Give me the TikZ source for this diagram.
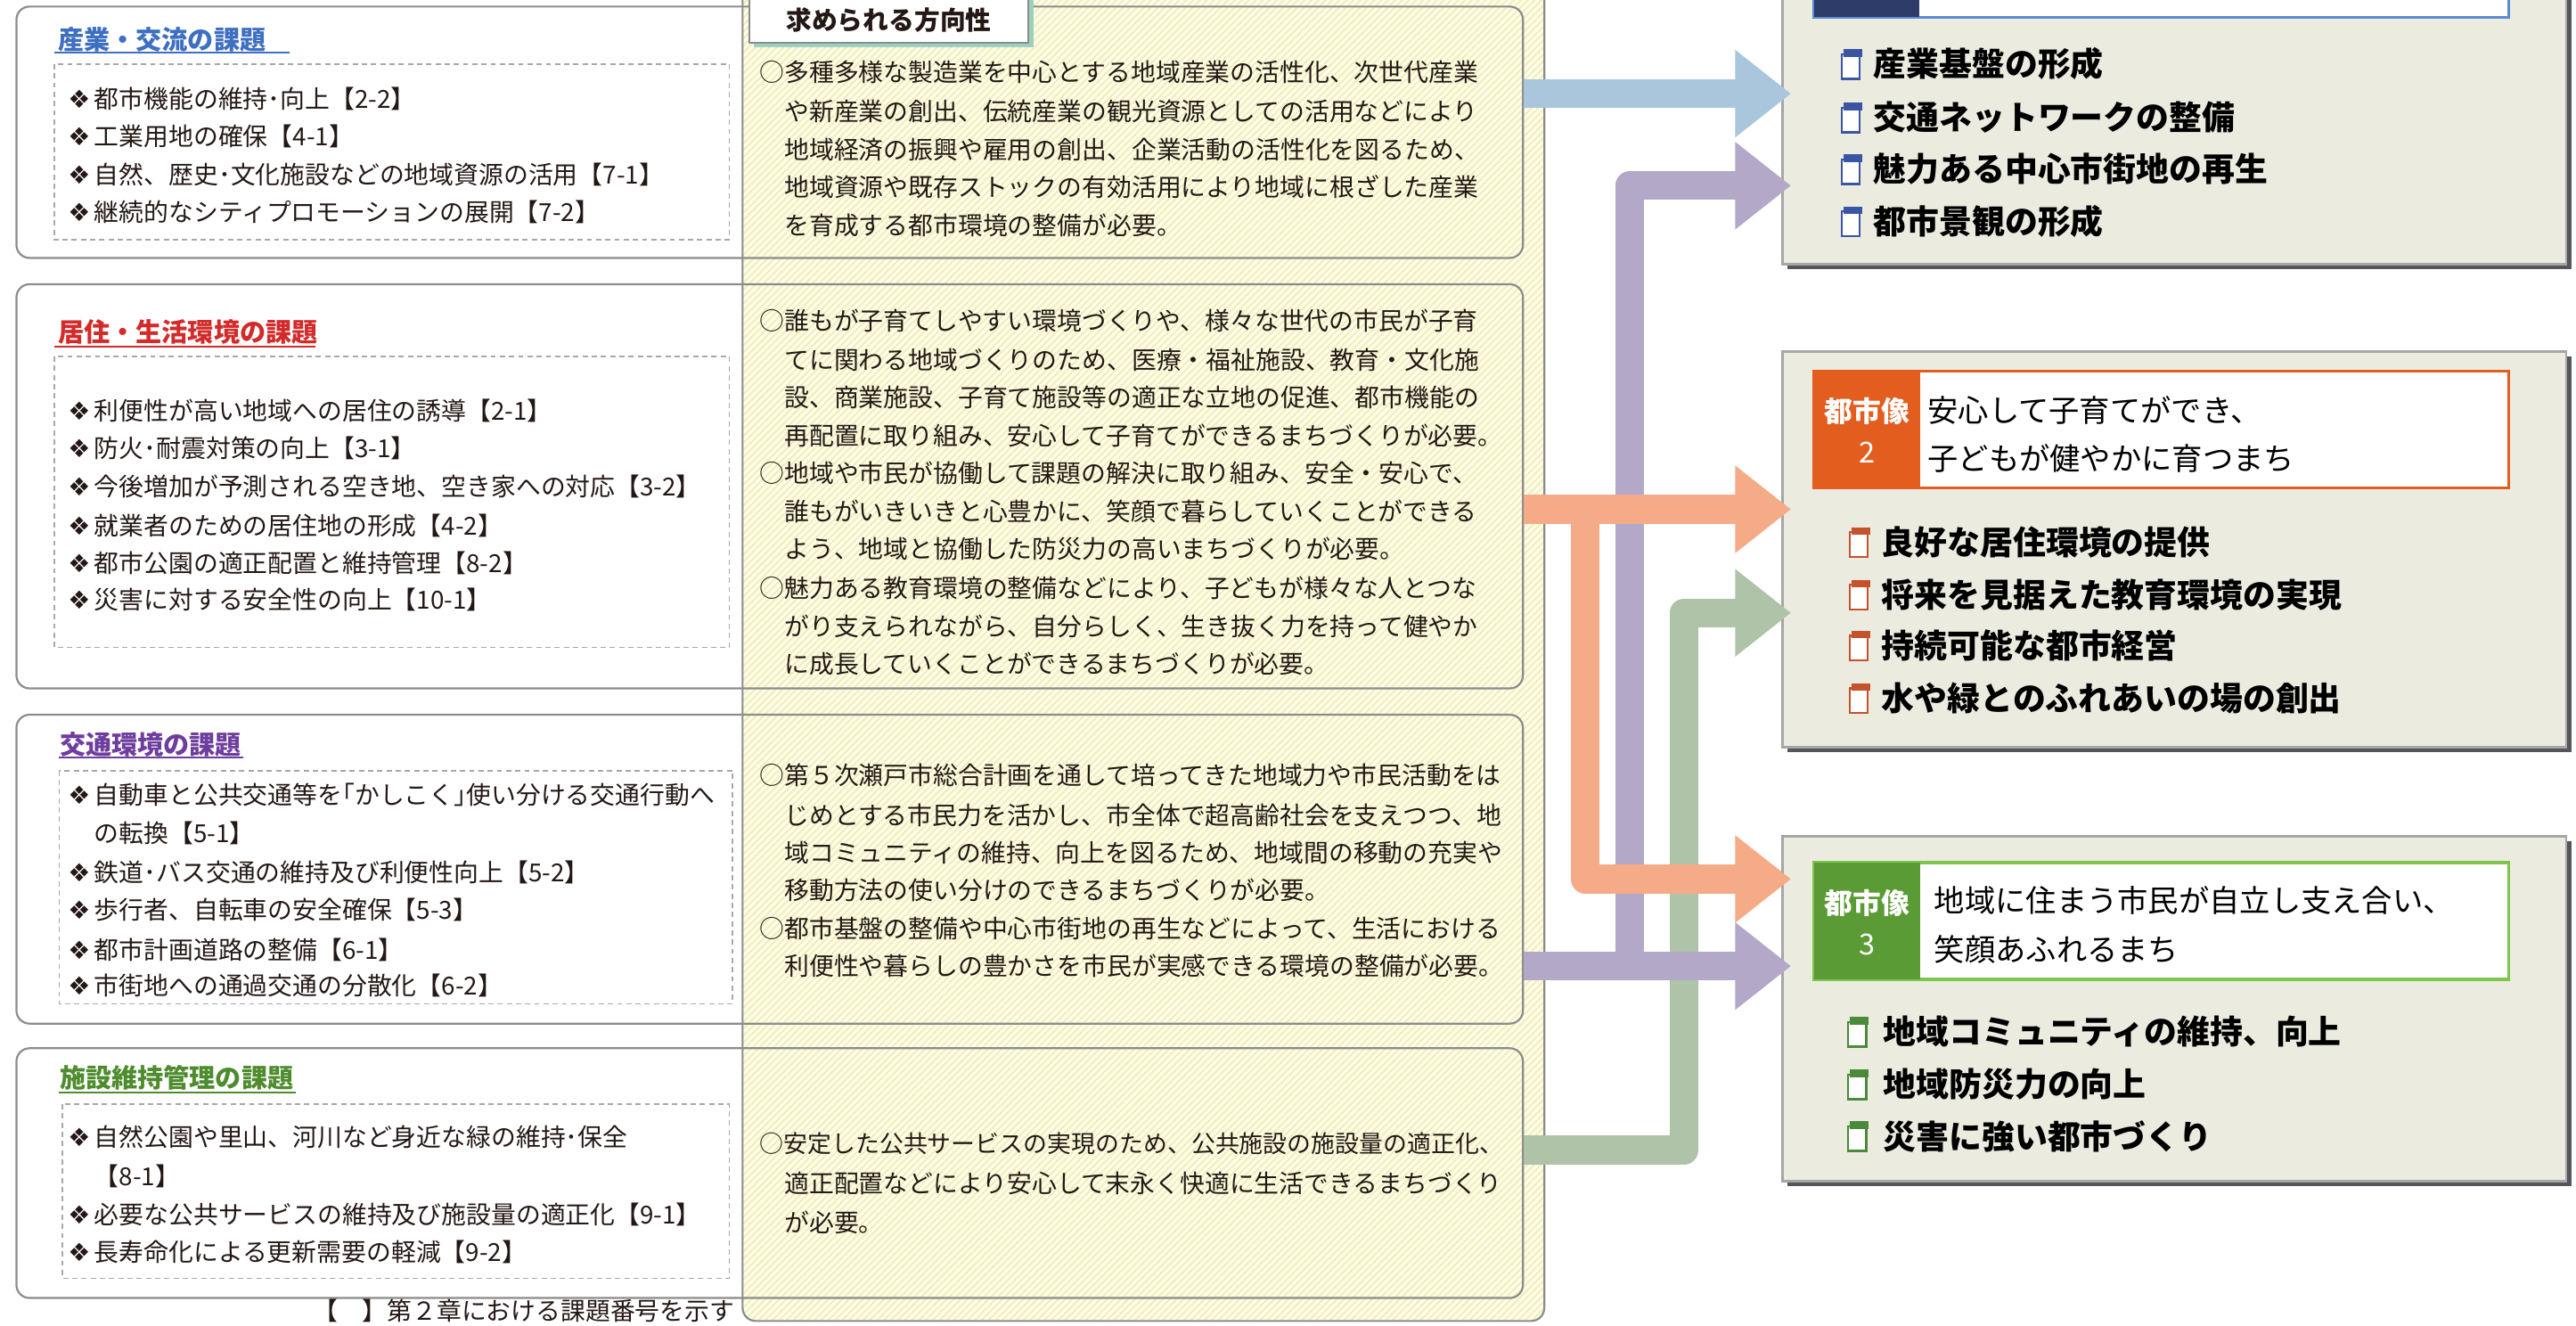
\documentclass[tikz,border=0pt]{standalone}
\usepackage{fontspec}
\setmainfont{Noto Sans CJK JP}
\newfontfamily\dvfont{DejaVu Sans}
\usetikzlibrary{arrows.meta,fit,patterns.meta}
\newcommand\fsz[2]{\fontsize{#1}{#2}\selectfont}
\newcommand\diam{{\dvfont\fsz{7.6}{8}❖}\hspace{1.2pt}}
\definecolor{txt}{HTML}{231815}
\definecolor{boxline}{HTML}{8C8C8C}
\definecolor{dashline}{HTML}{A8A8A8}
\definecolor{colfill}{HTML}{FEFDE6}
\definecolor{colstripe}{HTML}{F0EBBA}
\definecolor{tblue}{HTML}{3E6FC1}
\definecolor{tred}{HTML}{D42A2A}
\definecolor{tpurple}{HTML}{6E3E9E}
\definecolor{tgreen}{HTML}{4E8C2E}
\definecolor{arblue}{HTML}{A9C6DC}
\definecolor{arpurple}{HTML}{B3A8C8}
\definecolor{arorange}{HTML}{F5AB88}
\definecolor{argreen}{HTML}{AEC3A7}
\definecolor{cityfill}{HTML}{ECEBE0}
\definecolor{cityline}{HTML}{A6A6A6}
\definecolor{cityshadow}{HTML}{55565C}
\definecolor{navy}{HTML}{2E3C6A}
\definecolor{hblue}{HTML}{5B8BD3}
\definecolor{horange}{HTML}{E35D1F}
\definecolor{hgreen}{HTML}{5B9B35}
\definecolor{hgreenline}{HTML}{7DC64A}
\definecolor{iblue}{HTML}{3B55A5}
\definecolor{iorange}{HTML}{C4522A}
\definecolor{igreen}{HTML}{4A8A3A}
\definecolor{tealsh}{HTML}{9ED0C2}
\begin{document}
\begin{tikzpicture}[x=0.5pt,y=-0.5pt,
 rowbox/.style={draw=boxline,line width=0.6pt,rounded corners=4pt,inner sep=0pt,fit={#1}},
 dbox/.style={draw=dashline,line width=0.45pt,dash pattern=on 1.6pt off 1.2pt},
 itm/.style={anchor=west,inner sep=0pt,text=txt,font=\fsz{7.55}{9}},
 mtx/.style={anchor=west,inner sep=0pt,text=txt,font=\fsz{7.55}{9}},
 ttl/.style={anchor=west,inner sep=0pt,font=\fsz{7.9}{9}\bfseries,text=#1},
 uline/.style={draw=#1,line width=0.7pt},
 citybox/.style={draw=cityline,fill=cityfill,line width=0.8pt,inner sep=0pt,fit={#1}},
 hdr/.style={fill=white,line width=0.9pt,inner sep=0pt,fit={#1}},
 lbl/.style={inner sep=0pt,fit={#1}},
 lbltx/.style={text=white,inner sep=0pt,font=\fsz{8.6}{10}\bfseries},
 htx/.style={anchor=west,inner sep=0pt,text=black,font=\fsz{9.3}{11}},
 cit/.style={anchor=west,inner sep=0pt,text=black,font=\fsz{10}{12}\bfseries},
 fat/.style={line width=8.75pt,line join=round,-{Triangle[length=17pt,width=25.5pt]},shorten >=-3pt},
 pics/chk/.style={code={\draw[draw=#1,line width=0.6pt,fill=white] (-6,-6) rectangle (5,9); \fill[#1] (-5,-9) rectangle (6.5,-4.5);}}
]
\useasboundingbox (0,0) rectangle (1568,807);

% ---------- middle column ----------
\fill[colfill,rounded corners=4pt] (452,-10) -- (452,804) -- (940,804) -- (940,-10) -- cycle;
\fill[pattern={Lines[angle=45,distance=1.5pt,line width=0.45pt]},pattern color=colstripe,rounded corners=4pt] (452,-10) -- (452,804) -- (940,804) -- (940,-10) -- cycle;

% ---------- row boxes ----------
\node[rowbox={(10,4) (927,157)}] (row1) {};
\node[rowbox={(10,173) (927,419)}] (row2) {};
\node[rowbox={(10,435) (927,623)}] (row3) {};
\node[rowbox={(10,638) (927,790)}] (row4) {};

\draw[draw=boxline,line width=0.6pt,rounded corners=4pt] (452,-10) -- (452,804) -- (940,804) -- (940,-10);

% header of middle column
\fill[tealsh] (459,-7) rectangle (629,29);
\node[draw=boxline,fill=white,line width=0.6pt,inner sep=0pt,fit={(456,-10) (626,26)}] (hdrM) {};
\node[inner sep=0pt,font=\fsz{7.8}{9}\bfseries,text=txt] (hdrMt) at (541,12) {求められる方向性};

% ---------- row 1 (left) ----------
\node[ttl=tblue] (t1) at (35,24) {産業・交流の課題};
\draw[uline=tblue] (33,32) -- (176,32);
\draw[dbox] (33,39) rectangle (444,146);
\node[itm] (a1) at (41,60) {\diam 都市機能の維持･向上【2-2】};
\node[itm] (a2) at (41,83) {\diam 工業用地の確保【4-1】};
\node[itm] (a3) at (41,106) {\diam 自然、歴史･文化施設などの地域資源の活用【7-1】};
\node[itm] (a4) at (41,129) {\diam 継続的なシティプロモーションの展開【7-2】};

% ---------- row 2 (left) ----------
\node[ttl=tred] (t2) at (35,202) {居住・生活環境の課題};
\draw[uline=tred] (33,211) -- (192,211);
\draw[dbox] (33,217) rectangle (444,394);
\node[itm] (b1) at (41,250) {\diam 利便性が高い地域への居住の誘導【2-1】};
\node[itm] (b2) at (41,273) {\diam 防火･耐震対策の向上【3-1】};
\node[itm] (b3) at (41,296) {\diam 今後増加が予測される空き地、空き家への対応【3-2】};
\node[itm] (b4) at (41,320) {\diam 就業者のための居住地の形成【4-2】};
\node[itm] (b5) at (41,343) {\diam 都市公園の適正配置と維持管理【8-2】};
\node[itm] (b6) at (41,365) {\diam 災害に対する安全性の向上【10-1】};

% ---------- row 3 (left) ----------
\node[ttl=tpurple] (t3) at (36,453) {交通環境の課題};
\draw[uline=tpurple] (36,461) -- (148,461);
\draw[dbox] (36,469) rectangle (446,611);
\node[itm] (c1) at (41,484) {\diam 自動車と公共交通等を｢かしこく｣使い分ける交通行動へ};
\node[itm] (c1b) at (57,507) {の転換【5-1】};
\node[itm] (c2) at (41,531) {\diam 鉄道･バス交通の維持及び利便性向上【5-2】};
\node[itm] (c3) at (41,554) {\diam 歩行者、自転車の安全確保【5-3】};
\node[itm] (c4) at (41,578) {\diam 都市計画道路の整備【6-1】};
\node[itm] (c5) at (41,600) {\diam 市街地への通過交通の分散化【6-2】};

% ---------- row 4 (left) ----------
\node[ttl=tgreen] (t4) at (36,656) {施設維持管理の課題};
\draw[uline=tgreen] (36,665) -- (180,665);
\draw[dbox] (38,672) rectangle (444,778);
\node[itm] (d1) at (41,692) {\diam 自然公園や里山、河川など身近な緑の維持･保全};
\node[itm] (d1b) at (57,716) {【8-1】};
\node[itm] (d2) at (41,739) {\diam 必要な公共サービスの維持及び施設量の適正化【9-1】};
\node[itm] (d3) at (41,762) {\diam 長寿命化による更新需要の軽減【9-2】};

\node[itm] (foot) at (190,798) {【　】第２章における課題番号を示す};

% ---------- middle texts ----------
\node[mtx] (m11) at (462,44) {○多種多様な製造業を中心とする地域産業の活性化、次世代産業};
\node[mtx] (m12) at (462,68) {　や新産業の創出、伝統産業の観光資源としての活用などにより};
\node[mtx] (m13) at (462,91) {　地域経済の振興や雇用の創出、企業活動の活性化を図るため、};
\node[mtx] (m14) at (462,114) {　地域資源や既存ストックの有効活用により地域に根ざした産業};
\node[mtx] (m15) at (462,137) {　を育成する都市環境の整備が必要。};

\node[mtx] (m21) at (462,195) {○誰もが子育てしやすい環境づくりや、様々な世代の市民が子育};
\node[mtx] (m22) at (462,219) {　てに関わる地域づくりのため、医療・福祉施設、教育・文化施};
\node[mtx] (m23) at (462,242) {　設、商業施設、子育て施設等の適正な立地の促進、都市機能の};
\node[mtx] (m24) at (462,265) {　再配置に取り組み、安心して子育てができるまちづくりが必要。};
\node[mtx] (m25) at (462,288) {○地域や市民が協働して課題の解決に取り組み、安全・安心で、};
\node[mtx] (m26) at (462,311) {　誰もがいきいきと心豊かに、笑顔で暮らしていくことができる};
\node[mtx] (m27) at (462,334) {　よう、地域と協働した防災力の高いまちづくりが必要。};
\node[mtx] (m28) at (462,358) {○魅力ある教育環境の整備などにより、子どもが様々な人とつな};
\node[mtx] (m29) at (462,381) {　がり支えられながら、自分らしく、生き抜く力を持って健やか};
\node[mtx] (m2a) at (462,404) {　に成長していくことができるまちづくりが必要。};

\node[mtx] (m31) at (462,472) {○第５次瀬戸市総合計画を通して培ってきた地域力や市民活動をは};
\node[mtx] (m32) at (462,496) {　じめとする市民力を活かし、市全体で超高齢社会を支えつつ、地};
\node[mtx] (m33) at (462,519) {　域コミュニティの維持、向上を図るため、地域間の移動の充実や};
\node[mtx] (m34) at (462,542) {　移動方法の使い分けのできるまちづくりが必要。};
\node[mtx] (m35) at (462,565) {○都市基盤の整備や中心市街地の再生などによって、生活における};
\node[mtx] (m36) at (462,588) {　利便性や暮らしの豊かさを市民が実感できる環境の整備が必要。};

\node[mtx,font=\fsz{7.3}{9}] (m41) at (462,696) {○安定した公共サービスの実現のため、公共施設の施設量の適正化、};
\node[mtx] (m42) at (462,720) {　適正配置などにより安心して末永く快適に生活できるまちづくり};
\node[mtx] (m43) at (462,744) {　が必要。};

% ---------- city boxes ----------
\fill[cityshadow] (1088,-37) rectangle (1565,164);
\node[citybox={(1085,-40) (1562,161)}] (cityA) {};
\node[hdr={(1104,-30) (1527,10.5)},draw=hblue] (hdrA) {};
\node[lbl={(1104,-30) (1168,10.5)},fill=navy] (lblA) {};
\pic at (1127,39) {chk=iblue};
\node[cit] (ca1) at (1140,39) {産業基盤の形成};
\pic at (1127,71.5) {chk=iblue};
\node[cit] (ca2) at (1140,71.5) {交通ネットワークの整備};
\pic at (1127,103) {chk=iblue};
\node[cit] (ca3) at (1140,103) {魅力ある中心市街地の再生};
\pic at (1127,134.6) {chk=iblue};
\node[cit] (ca4) at (1140,134.6) {都市景観の形成};

\fill[cityshadow] (1088,217) rectangle (1565,458);
\node[citybox={(1085,214) (1562,455)}] (cityB) {};
\node[hdr={(1104,226) (1527,297)},draw=horange] (hdrB) {};
\node[lbl={(1104,226) (1169,297)},fill=horange] (lblB) {};
\node[lbltx] (lbB1) at (1136.5,250.5) {都市像};
\node[lbltx,font=\fsz{8.8}{10}] (lbB2) at (1136.5,275.6) {2};
\node[htx] (hB1) at (1173,249.5) {安心して子育てができ、};
\node[htx] (hB2) at (1173,279) {子どもが健やかに育つまち};
\pic at (1132,330) {chk=iorange};
\node[cit] (cb1) at (1145,330) {良好な居住環境の提供};
\pic at (1132,362) {chk=iorange};
\node[cit] (cb2) at (1145,362) {将来を見据えた教育環境の実現};
\pic at (1132,393) {chk=iorange};
\node[cit] (cb3) at (1145,393) {持続可能な都市経営};
\pic at (1132,425) {chk=iorange};
\node[cit] (cb4) at (1145,425) {水や緑とのふれあいの場の創出};

\fill[cityshadow] (1088,512) rectangle (1565,722);
\node[citybox={(1085,509) (1562,719)}] (cityC) {};
\node[hdr={(1104,525) (1527,596)},draw=hgreenline] (hdrC) {};
\node[lbl={(1104,525) (1169,596)},fill=hgreen] (lblC) {};
\node[lbltx] (lbC1) at (1136.5,549.6) {都市像};
\node[lbltx,font=\fsz{8.8}{10}] (lbC2) at (1136.5,575) {3};
\node[htx] (hC1) at (1177,547.8) {地域に住まう市民が自立し支え合い、};
\node[htx] (hC2) at (1177,577.6) {笑顔あふれるまち};
\pic at (1131,628) {chk=igreen};
\node[cit] (cc1) at (1146,628) {地域コミュニティの維持、向上};
\pic at (1131,660) {chk=igreen};
\node[cit] (cc2) at (1146,660) {地域防災力の向上};
\pic at (1131,691.5) {chk=igreen};
\node[cit] (cc3) at (1146,691.5) {災害に強い都市づくり};

% ---------- arrows ----------
\draw[fat,argreen] (row4.east |- 0,700) -- (1025,700) -- (1025,373) -- (cityB.west |- 0,373);
\draw[fat,arpurple] (row3.east |- 0,588) -- (cityC.west |- 0,588);
\draw[fat,arpurple] (992,590) -- (992,113) -- (cityA.west |- 0,113);
\draw[fat,arblue] (row1.east |- 0,57) -- (cityA.west |- 0,57);
\draw[fat,arorange] (row2.east |- 0,310) -- (cityB.west |- 0,310);
\draw[fat,arorange] (965,308) -- (965,535) -- (cityC.west |- 0,535);
\end{tikzpicture}
\end{document}
